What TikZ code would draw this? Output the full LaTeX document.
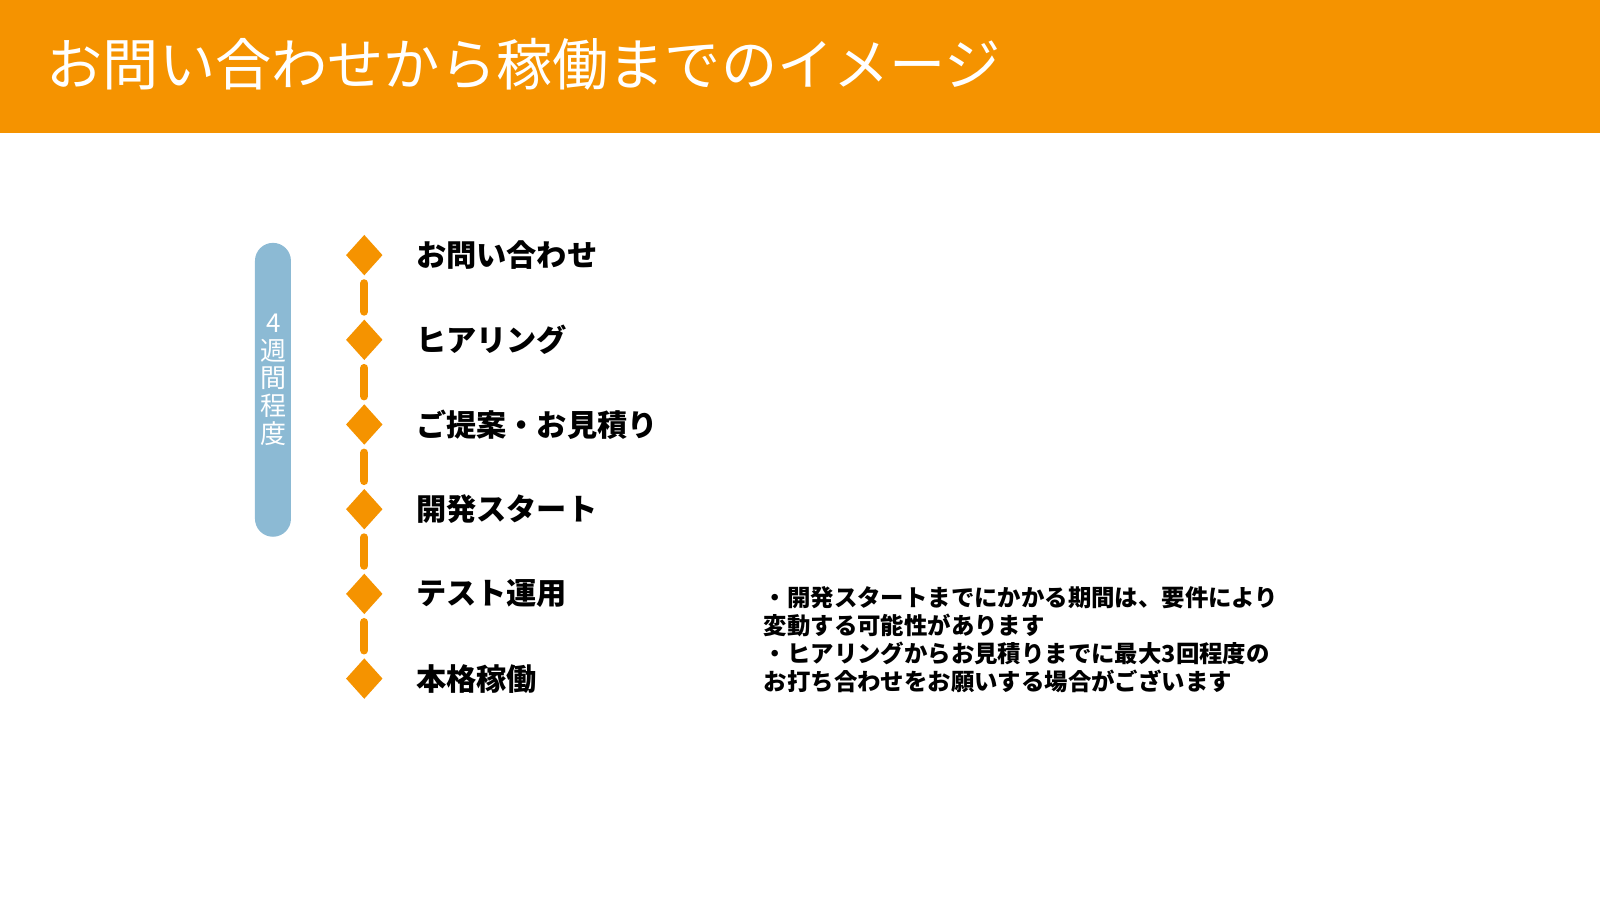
\documentclass[tikz,border=0pt]{standalone}
\usepackage{fontspec}
\newfontfamily\cjk{Noto Sans CJK JP}
\usetikzlibrary{shapes.geometric}
\definecolor{barorange}{RGB}{245,147,0}
\definecolor{pillblue}{RGB}{140,186,212}
\tikzset{
  stepmark/.style={diamond, fill=barorange, draw=none, inner sep=0pt,
    minimum width=0.37cm, minimum height=0.41cm},
  steplabel/.style={anchor=west, inner sep=0pt, font=\cjk\bfseries\fontsize{8.6}{9}\selectfont},
  steplink/.style={draw=barorange, line width=0.082cm, line cap=round,
    shorten <=0.07cm, shorten >=0.07cm}
}

\begin{document}
\begin{tikzpicture}[x=0.010204cm, y=-0.010204cm]
    \useasboundingbox (0,0) rectangle (1568,882);
    \fill[barorange] (0,0) rectangle (1568,130);
    \node[anchor=west, inner sep=0pt, text=white, font=\cjk\fontsize{16}{18}\selectfont]
      (title) at (45,63) {お問い合わせから稼働までのイメージ};

    % period bar
    \node[fill=pillblue, rounded corners=0.18cm, minimum width=0.36cm,
      minimum height=2.94cm, inner sep=0pt] (pill) at (267.5,382) {};
    \node[text=white, align=center, inner sep=0pt,
      font=\cjk\fontsize{7.4}{7.9}\selectfont] (weeks) at (268,372)
      {4\\週\\間\\程\\度};

    % steps
    \node[stepmark] (d1) at (357,250) {};
    \node[stepmark] (d2) at (357,333) {};
    \node[stepmark] (d3) at (357,416) {};
    \node[stepmark] (d4) at (357,499) {};
    \node[stepmark] (d5) at (357,582) {};
    \node[stepmark] (d6) at (357,665) {};
    \node[steplabel] (s1) at (407,250) {お問い合わせ};
    \node[steplabel] (s2) at (407,333) {ヒアリング};
    \node[steplabel] (s3) at (407,416) {ご提案・お見積り};
    \node[steplabel] (s4) at (407,499) {開発スタート};
    \node[steplabel] (s5) at (407,582) {テスト運用};
    \node[steplabel] (s6) at (407,665) {本格稼働};
    \draw[steplink] (d1.south) -- (d2.north);
    \draw[steplink] (d2.south) -- (d3.north);
    \draw[steplink] (d3.south) -- (d4.north);
    \draw[steplink] (d4.south) -- (d5.north);
    \draw[steplink] (d5.south) -- (d6.north);

    \node[anchor=north west, inner sep=0pt, align=left,
      font=\cjk\bfseries\fontsize{6.66}{8}\selectfont] (note) at (748,574)
      {・開発スタートまでにかかる期間は、要件により\\
       変動する可能性があります\\
       ・ヒアリングからお見積りまでに最大3回程度の\\
       お打ち合わせをお願いする場合がございます};
  \end{tikzpicture}
\end{document}
